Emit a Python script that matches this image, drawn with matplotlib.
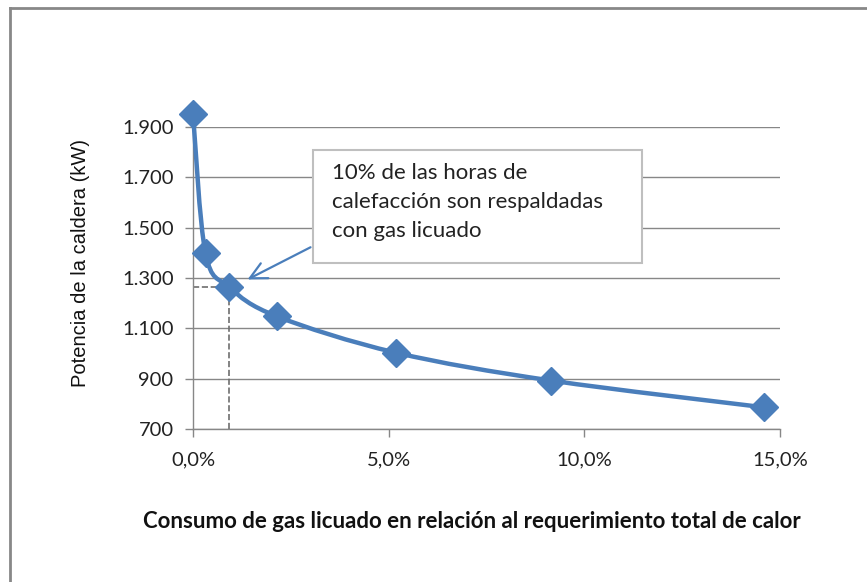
import matplotlib.pyplot as plt
from matplotlib.path import Path
from matplotlib.patches import PathPatch, Rectangle
from matplotlib.lines import Line2D

# consumo de gas licuado (% del calor total) vs potencia de la caldera (kW)
consumo = [0.0, 0.32, 0.93, 2.14, 5.18, 9.16, 14.6]
potencia = [1950, 1398, 1263, 1148, 1004, 893, 787]

x_ticks = [0, 5, 10, 15]
x_labels = ["0,0%", "5,0%", "10,0%", "15,0%"]
y_ticks = [700, 900, 1100, 1300, 1500, 1700, 1900]
y_labels = ["700", "900", "1.100", "1.300", "1.500", "1.700", "1.900"]

nota = "10% de las horas de\ncalefacción son respaldadas\ncon gas licuado"

azul = "#4a7ebb"
gris = "#878787"

plt.rcParams['font.family'] = ['Lato', 'DejaVu Sans']

fig = plt.figure(figsize=(8.67, 5.82), dpi=100)
ax = fig.add_axes([0.2226, 0.2624, 0.677, 0.520])

# gridlines y ejes estilo Excel
ax.set_xlim(0, 15)
ax.set_ylim(700, 1900)
ax.set_yticks(y_ticks, y_labels)
ax.set_xticks(x_ticks, x_labels)
ax.yaxis.grid(True, color=gris, linewidth=1)
ax.set_axisbelow(True)
for s in ["top", "right"]:
    ax.spines[s].set_visible(False)
for s in ["left", "bottom"]:
    ax.spines[s].set_color(gris)
    ax.spines[s].set_linewidth(1)
ax.tick_params(axis="both", colors=gris, length=6, width=1, labelsize=14.5,
               labelcolor="#222222")
ax.tick_params(axis="x", pad=10)
ax.tick_params(axis="y", pad=8)

# curva suavizada (Bezier tipo Catmull-Rom) a traves de los puntos
n = len(consumo)
verts = [(consumo[0], potencia[0])]
codes = [Path.MOVETO]
for i in range(n - 1):
    p0 = (consumo[max(i - 1, 0)], potencia[max(i - 1, 0)])
    p1 = (consumo[i], potencia[i])
    p2 = (consumo[i + 1], potencia[i + 1])
    p3 = (consumo[min(i + 2, n - 1)], potencia[min(i + 2, n - 1)])
    c1 = (p1[0] + (p2[0] - p0[0]) / 6, p1[1] + (p2[1] - p0[1]) / 6)
    c2 = (p2[0] - (p3[0] - p1[0]) / 6, p2[1] - (p3[1] - p1[1]) / 6)
    verts += [c1, c2, p2]
    codes += [Path.CURVE4] * 3
ax.add_patch(PathPatch(Path(verts, codes), fill=False, edgecolor=azul,
                       linewidth=3.2, clip_on=False, zorder=3))
ax.plot(consumo, potencia, linestyle="none", marker="D", markersize=14,
        color=azul, clip_on=False, zorder=4)

# lineas punteadas al punto del 10% de horas
ax.plot([consumo[2], consumo[2]], [700, potencia[2]], linestyle="--",
        color="#6e6e6e", linewidth=1.2, zorder=2)
ax.plot([0, consumo[2]], [potencia[2], potencia[2]], linestyle="--",
        color="#6e6e6e", linewidth=1.2, zorder=2)

# cuadro de texto con flecha
fig.patches.append(Rectangle((313 / 867, 1 - 263 / 582), 329 / 867, 113 / 582,
                             transform=fig.transFigure, facecolor="white",
                             edgecolor="#bfbfbf", linewidth=1.5, zorder=5))
fig.text(332 / 867, 1 - 163 / 582, nota, ha="left", va="top", fontsize=16,
         color="#222222", linespacing=1.55, zorder=6)
ax.annotate("", xy=(1.33, 1289), xycoords="data",
            xytext=(313 / 867, 1 - 246 / 582), textcoords="figure fraction",
            arrowprops=dict(arrowstyle="->", color=azul, lw=1.6,
                            mutation_scale=30))

# etiquetas de los ejes
ax.set_ylabel("Potencia de la caldera (kW)", fontsize=14.5,
              family=["Liberation Sans"], color="#111111")
ax.yaxis.set_label_coords(-0.175, 0.55)
fig.text(472 / 867, 1 - 521 / 582,
         "Consumo de gas licuado en relación al requerimiento total de calor",
         ha="center", va="center", fontsize=16, fontweight="bold",
         color="#111111")

# marco gris del grafico
fig.add_artist(Line2D([10 / 867, 1], [1 - 8 / 582, 1 - 8 / 582],
                      transform=fig.transFigure, color="#888888", linewidth=2))
fig.add_artist(Line2D([10 / 867, 10 / 867], [0, 1 - 8 / 582],
                      transform=fig.transFigure, color="#888888", linewidth=2))

fig.savefig("out.png", dpi=100)
